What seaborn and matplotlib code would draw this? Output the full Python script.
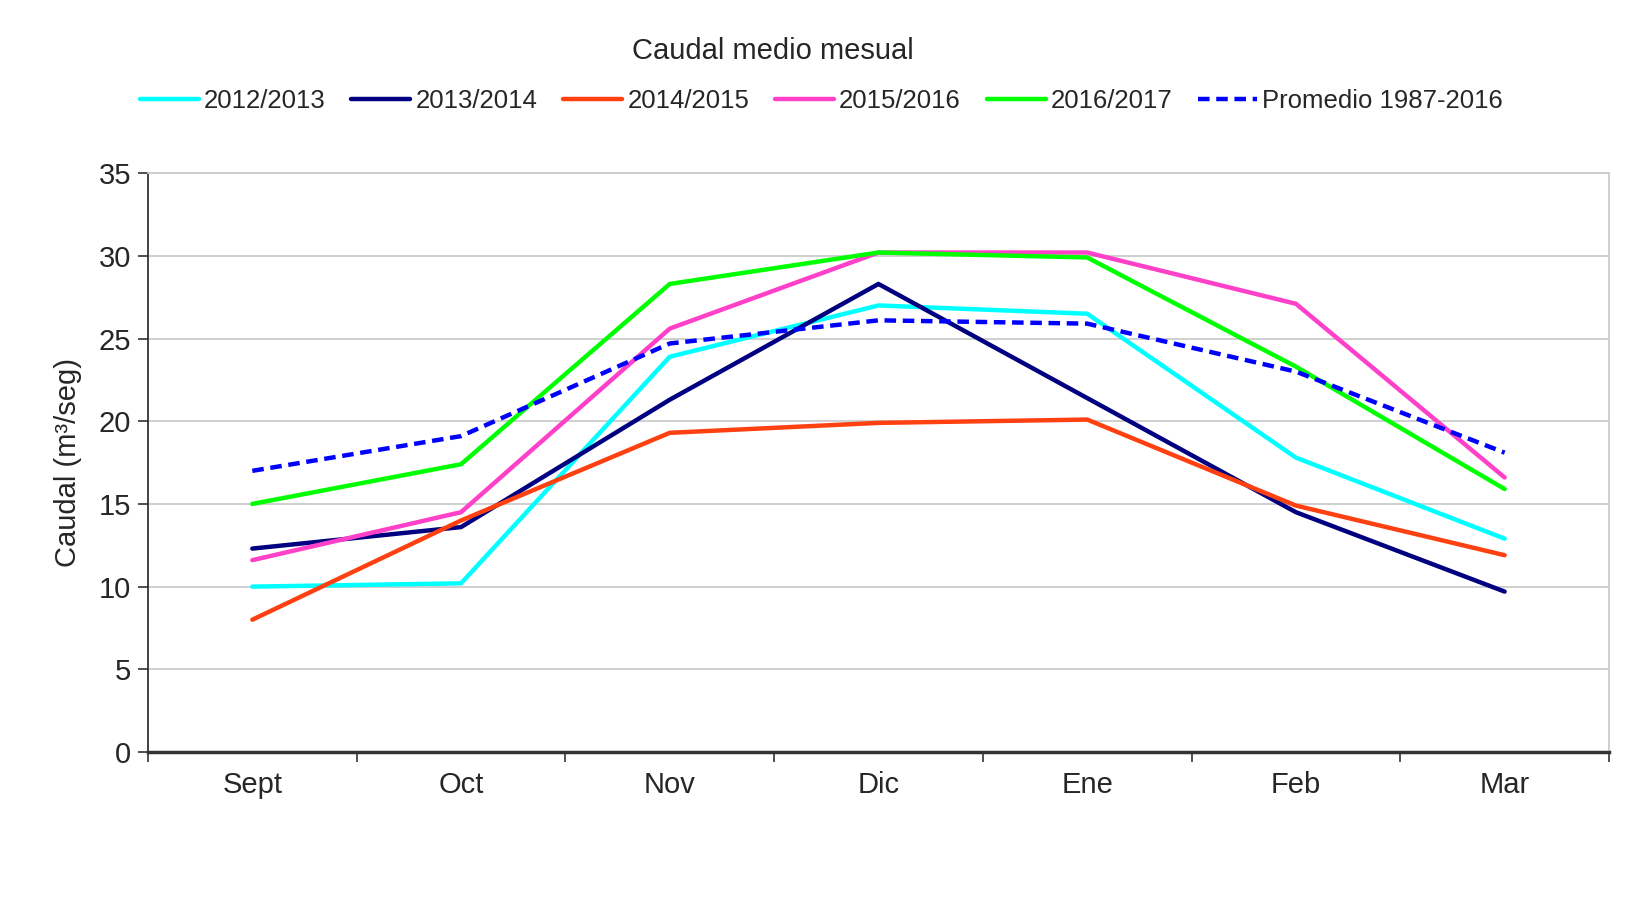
import numpy as np
import pandas as pd
import matplotlib
matplotlib.use("Agg")
import matplotlib.pyplot as plt
import seaborn as sns

# Data
months = ["Sept", "Oct", "Nov", "Dic", "Ene", "Feb", "Mar"]
s2012_2013 = [10.0, 10.2, 23.9, 27.0, 26.5, 17.8, 12.9]
s2013_2014 = [12.3, 13.6, 21.3, 28.3, 21.4, 14.5, 9.7]
s2014_2015 = [8.0, 14.0, 19.3, 19.9, 20.1, 14.9, 11.9]
s2015_2016 = [11.6, 14.5, 25.6, 30.2, 30.2, 27.1, 16.6]
s2016_2017 = [15.0, 17.4, 28.3, 30.2, 29.9, 23.3, 15.9]
promedio = [17.0, 19.1, 24.7, 26.1, 25.9, 23.0, 18.1]

series_names = ["2012/2013", "2013/2014", "2014/2015", "2015/2016", "2016/2017",
                "Promedio 1987-2016"]
series_values = [s2012_2013, s2013_2014, s2014_2015, s2015_2016, s2016_2017, promedio]
colors = ["#00FFFF", "#000080", "#FF4010", "#FF40C8", "#00FF00", "#0000FF"]

sns.set_style("white")
plt.rcParams['font.family'] = ['Liberation Sans', 'DejaVu Sans']

fig = plt.figure(figsize=(16.33, 9.16), dpi=100)
ax = fig.add_axes([0.0906, 0.179, 0.8947, 0.632])

for name, vals, col in zip(series_names, series_values, colors):
    df = pd.DataFrame({"mes": months, "caudal": vals})
    is_avg = name.startswith("Promedio")
    line_kw = {"dashes": (2.6, 1.5)} if is_avg else {}
    sns.lineplot(data=df, x="mes", y="caudal", color=col, linewidth=3.2,
                 label=name, ax=ax, sort=False, **line_kw)

ax.set_xlim(-0.5, len(months) - 0.5)
ax.set_ylim(0, 35)
ax.set_yticks(np.arange(0, 36, 5))
ax.yaxis.grid(True, color="#cccccc", linewidth=1.3)
ax.xaxis.grid(False)

# ticks between categories on the x axis
ax.set_xticks(range(len(months)))
ax.set_xticklabels(months)
ax.set_xticks(np.arange(-0.5, len(months), 1.0), minor=True)
ax.tick_params(axis="x", which="major", length=0, pad=14, labelsize=21)
ax.tick_params(axis="x", which="minor", length=7, width=1.2, color="#333333",
               direction="out", bottom=True)
ax.tick_params(axis="y", length=7, width=1.2, color="#333333", direction="out",
               left=True, labelsize=21, pad=5)

for side in ["left", "bottom"]:
    ax.spines[side].set_color("#333333")
    ax.spines[side].set_linewidth(1.3)
ax.spines["bottom"].set_linewidth(2.5)
for side in ["right", "top"]:
    ax.spines[side].set_color("#cccccc")
    ax.spines[side].set_linewidth(1.3)

ax.set_xlabel("")
ax.set_ylabel("Caudal (m³/seg)", fontsize=21, labelpad=12)

ax.legend(loc="center", bbox_to_anchor=(0.503, 0.890), bbox_transform=fig.transFigure,
          ncol=6, frameon=False, fontsize=18.5, handlelength=2.3, handletextpad=0.2,
          columnspacing=1.0)

fig.text(0.473, 0.944, "Caudal medio mesual", ha="center", va="center", fontsize=21)

fig.savefig("out.png", dpi=100)
